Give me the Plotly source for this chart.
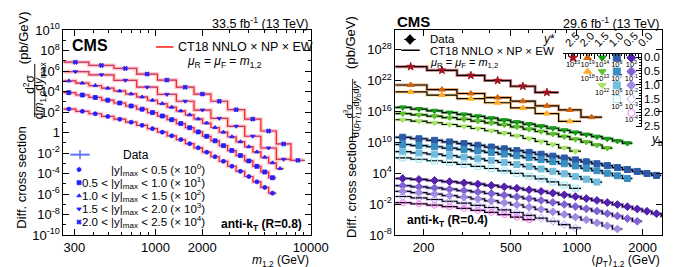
import numpy as np
import plotly.graph_objects as go

W, H = 676, 267
FONT = "Liberation Sans, Arial, sans-serif"

# ---------------- Left panel: dijet mass bins (GeV) ----------------
M_EDGES_FINE = [249, 306, 372, 449, 539, 641, 756, 887, 1029, 1187, 1361, 1556, 1769,
                2008, 2273, 2572, 2915, 3306, 3754, 4244, 4774, 5356, 6000, 6702, 7460]
M_EDGES_COARSE = [249, 372, 539, 756, 1029, 1361, 1769, 2273, 2915, 3754, 4774, 6000, 7460, 9165]

# log10 of scaled cross sections (pb/GeV)
LOG_Y00_05 = [2.3, 2.08, 1.84, 1.58, 1.31, 1.02, 0.71, 0.39, 0.05, -0.31, -0.68, -1.08, -1.48,
              -1.91, -2.35, -2.80, -3.28, -3.77, -4.28, -4.80, -5.34, -5.9]
LOG_Y05_10 = [3.9, 3.67, 3.43, 3.17, 2.89, 2.60, 2.29, 1.96, 1.62, 1.26, 0.88, 0.48, 0.07,
              -0.36, -0.80, -1.27, -1.75, -2.24, -2.76, -3.29, -3.84, -4.4]
LOG_Y10_15 = [5.05, 4.83, 4.59, 4.34, 4.07, 3.78, 3.48, 3.16, 2.83, 2.48, 2.12, 1.74, 1.34,
              0.93, 0.5, 0.05, -0.40, -0.88, -1.37, -1.88, -2.40, -2.94, -3.5]
LOG_Y15_20 = [5.95, 5.64, 5.1, 4.43, 3.73, 3.06, 2.2, 1.39, 0.62, -0.35, -1.5, -2.6]
LOG_Y20_25 = [6.87, 6.56, 6.26, 5.71, 5.13, 4.43, 3.76, 3.06, 2.24, 1.32, 0.16, -1.1, -2.7]

L_SERIES = [LOG_Y00_05, LOG_Y05_10, LOG_Y10_15, LOG_Y15_20, LOG_Y20_25]
L_EDGES = [M_EDGES_FINE, M_EDGES_FINE, M_EDGES_FINE, M_EDGES_COARSE, M_EDGES_COARSE]
L_SYMBOL = ["circle", "square", "triangle-up", "triangle-down", "x"]
L_LABEL = ["|y|<sub>max</sub> < 0.5 (× 10<sup>0</sup>)",
           "0.5 < |y|<sub>max</sub> < 1.0 (× 10<sup>1</sup>)",
           "1.0 < |y|<sub>max</sub> < 1.5 (× 10<sup>2</sup>)",
           "1.5 < |y|<sub>max</sub> < 2.0 (× 10<sup>3</sup>)",
           "2.0 < |y|<sub>max</sub> < 2.5 (× 10<sup>4</sup>)"]

# ---------------- Right panel: <pT>1,2 bins (GeV) ----------------
PT_EDGES = [147, 175, 207, 243, 284, 329, 380, 437, 499, 569, 646, 732, 827, 931, 1046,
            1171, 1307, 1456, 1618, 1796, 1990, 2202, 2432, 2684]
PT_EDGES_COARSE = [147, 207, 284, 380, 499, 646, 827, 1046, 1307]

LOG_S20_B00 = [24.7, 24.0, 23.0, 22.0, 20.9, 19.7]
LOG_S15_B00 = [21.15, 20.25, 19.5, 18.7, 18.0, 17.1, 16.3, 14.9]
LOG_S15_B05 = [19.8, 19.2, 18.5, 17.7, 16.7, 15.6, 14.1]
LOG_S10_B00 = [16.8, 16.48, 16.14, 15.79, 15.43, 15.07, 14.70, 14.32, 13.93, 13.55, 13.16,
               12.75, 12.35, 11.94, 11.53, 11.12, 10.71, 10.28, 9.86]
LOG_S10_B05 = [15.6, 15.36, 15.09, 14.80, 14.49, 14.15, 13.79, 13.41, 13.0, 12.57, 12.12,
               11.64, 11.14, 10.62, 10.07, 9.50, 8.9]
LOG_S10_B10 = [14.4, 14.13, 13.82, 13.48, 13.11, 12.70, 12.27, 11.80, 11.30, 10.76, 10.19,
               9.60, 8.96, 8.3]
LOG_S05_B00 = [11.0, 10.71, 10.40, 10.09, 9.77, 9.44, 9.10, 8.76, 8.41, 8.07, 7.71, 7.34,
               6.98, 6.61, 6.24, 5.87, 5.50, 5.12, 4.74, 4.37, 3.98, 3.6]
LOG_S05_B05 = [9.6, 9.39, 9.16, 8.91, 8.65, 8.36, 8.06, 7.74, 7.40, 7.04, 6.66, 6.27, 5.86,
               5.43, 4.98, 4.51, 4.02, 3.53, 3.0]
LOG_S05_B10 = [8.2, 7.97, 7.72, 7.44, 7.15, 6.82, 6.48, 6.11, 5.71, 5.30, 4.86, 4.39, 3.90,
               3.39, 2.86, 2.3]
LOG_S05_B15 = [7.0, 6.73, 6.44, 6.11, 5.75, 5.36, 4.94, 4.48, 4.0, 3.48, 2.93, 2.35, 1.74, 1.1]
LOG_S00_B00 = [3.0, 2.81, 2.61, 2.39, 2.16, 1.92, 1.66, 1.39, 1.11, 0.81, 0.50, 0.17, -0.17,
               -0.52, -0.89, -1.26, -1.66, -2.06, -2.48, -2.92, -3.36, -3.83, -4.3]
LOG_S00_B05 = [1.6, 1.39, 1.17, 0.92, 0.66, 0.39, 0.09, -0.22, -0.55, -0.89, -1.26, -1.64,
               -2.04, -2.45, -2.88, -3.33, -3.80, -4.28, -4.78, -5.3]
LOG_S00_B10 = [0.5, 0.25, -0.02, -0.31, -0.63, -0.97, -1.33, -1.71, -2.12, -2.55, -3.0,
               -3.47, -3.97, -4.49, -5.03, -5.6, -6.19, -6.8]
LOG_S00_B15 = [-0.5, -0.77, -1.08, -1.42, -1.79, -2.20, -2.63, -3.10, -3.60, -4.14, -4.71,
               -5.30, -5.94, -6.6]
LOG_S00_B20 = [-1.7, -1.92, -2.18, -2.47, -2.80, -3.17, -3.57, -4.01, -4.49, -5.0]

R_SERIES = [LOG_S20_B00, LOG_S15_B00, LOG_S15_B05, LOG_S10_B00, LOG_S10_B05, LOG_S10_B10,
            LOG_S05_B00, LOG_S05_B05, LOG_S05_B10, LOG_S05_B15,
            LOG_S00_B00, LOG_S00_B05, LOG_S00_B10, LOG_S00_B15, LOG_S00_B20]
R_COARSE = [True, True, True] + [False] * 12
R_COLOR = ["#a3121c", "#d2640c", "#ffad2a", "#179a17", "#5fc22c", "#a6e46a",
           "#2a5aa8", "#3a8ec2", "#72bcdc", "#9fe3f3",
           "#5522b0", "#8062d2", "#a08ae2", "#b8a8f0", "#f07ef0"]
R_SYMBOL = ["star", "triangle-up", "triangle-up", "triangle-down", "triangle-down",
            "triangle-down", "square", "square", "square", "square-open",
            "diamond", "diamond", "diamond", "diamond-open", "circle-open"]
YSTAR_LO = [2.0, 1.5, 1.5, 1.0, 1.0, 1.0, 0.5, 0.5, 0.5, 0.5, 0.0, 0.0, 0.0, 0.0, 0.0]
YB_LO = [0.0, 0.0, 0.5, 0.0, 0.5, 1.0, 0.0, 0.5, 1.0, 1.5, 0.0, 0.5, 1.0, 1.5, 2.0]
SCALE_EXP = [23, 19, 18, 14, 13, 12, 9, 7, 6, 5, 3, -1, -2, -3, -4]

fig = go.Figure()


def steps(edges, vals):
    return list(edges[:len(vals) + 1]), [10 ** v for v in vals] + [10 ** vals[-1]]


# ---- left panel traces ----
for vals, edges, sym in zip(L_SERIES, L_EDGES, L_SYMBOL):
    xs, ys = steps(edges, vals)
    fig.add_trace(go.Scatter(x=xs, y=ys, mode="lines", line_shape="hv",
                             line=dict(color="rgba(255,90,90,0.3)", width=4),
                             xaxis="x", yaxis="y", hoverinfo="skip"))
    fig.add_trace(go.Scatter(x=xs, y=ys, mode="lines", line_shape="hv",
                             line=dict(color="#ff1a1a", width=1.2),
                             xaxis="x", yaxis="y", hoverinfo="skip"))
    lo = np.array(edges[:len(vals)], float)
    hi = np.array(edges[1:len(vals) + 1], float)
    c = np.sqrt(lo * hi)
    fig.add_trace(go.Scatter(x=c, y=[10 ** v for v in vals], mode="markers",
                             marker=dict(symbol=sym, size=4, color="#1f1fff",
                                         line=dict(width=0.8, color="#1f1fff")),
                             error_x=dict(type="data", symmetric=False, array=hi - c,
                                          arrayminus=c - lo, color="rgba(90,110,255,0.45)",
                                          thickness=1, width=0),
                             xaxis="x", yaxis="y"))

# ---- right panel traces ----
for vals, coarse, col, sym in zip(R_SERIES, R_COARSE, R_COLOR, R_SYMBOL):
    edges = PT_EDGES_COARSE if coarse else PT_EDGES
    xs, ys = steps(edges, vals)
    fig.add_trace(go.Scatter(x=xs, y=ys, mode="lines", line_shape="hv",
                             line=dict(color=col, width=3), opacity=0.55,
                             xaxis="x2", yaxis="y2", hoverinfo="skip"))
    fig.add_trace(go.Scatter(x=xs, y=ys, mode="lines", line_shape="hv",
                             line=dict(color="black", width=1.2),
                             xaxis="x2", yaxis="y2", hoverinfo="skip"))
    lo = np.array(edges[:len(vals)], float)
    hi = np.array(edges[1:len(vals) + 1], float)
    c = np.sqrt(lo * hi)
    fig.add_trace(go.Scatter(x=c, y=[10 ** v for v in vals], mode="markers",
                             marker=dict(symbol=sym, size=6, color=col,
                                         line=dict(width=1, color=col)),
                             xaxis="x2", yaxis="y2"))

# ---- inset (y*, yb) legend grid ----
for ys_, yb_, col, sym, e in zip(YSTAR_LO, YB_LO, R_COLOR, R_SYMBOL, SCALE_EXP):
    fig.add_trace(go.Scatter(x=[ys_ + 0.25], y=[yb_ + 0.02], mode="markers",
                             marker=dict(symbol=sym, size=7, color=col,
                                         line=dict(width=1, color=col)),
                             xaxis="x3", yaxis="y3", cliponaxis=False))
    fig.add_trace(go.Scatter(x=[ys_ + 0.25], y=[yb_ + 0.3], mode="text",
                             text=["10<sup>%d</sup>" % e], textfont=dict(size=7.5, family=FONT),
                             xaxis="x3", yaxis="y3", cliponaxis=False))

# ---- legend glyphs (pixel overlay axis) ----
LEG_Y = [163, 177, 191, 205, 219]
for sym, yy in zip(L_SYMBOL, LEG_Y):
    fig.add_trace(go.Scatter(x=[73], y=[yy], mode="markers",
                             marker=dict(symbol=sym, size=4, color="#1f1fff",
                                         line=dict(width=0.8, color="#1f1fff")),
                             xaxis="x4", yaxis="y4"))
fig.add_trace(go.Scatter(x=[64, 84], y=[147, 147], mode="lines",
                         line=dict(color="#6070ff", width=2), xaxis="x4", yaxis="y4"))
fig.add_trace(go.Scatter(x=[74, 74], y=[142, 152], mode="lines",
                         line=dict(color="#6070ff", width=1.5), xaxis="x4", yaxis="y4"))
fig.add_trace(go.Scatter(x=[152, 170], y=[32, 32], mode="lines",
                         line=dict(color="#ff1a1a", width=1.5), xaxis="x4", yaxis="y4"))
fig.add_trace(go.Scatter(x=[413], y=[24], mode="markers",
                         marker=dict(symbol="diamond", size=8, color="black"),
                         error_y=dict(type="constant", value=5, color="black", thickness=1, width=0),
                         error_x=dict(type="constant", value=6, color="black", thickness=1, width=0),
                         xaxis="x4", yaxis="y4"))
fig.add_trace(go.Scatter(x=[404, 423], y=[35.5, 35.5], mode="lines",
                         line=dict(color="black", width=1.5), xaxis="x4", yaxis="y4"))


def sup(k):
    return "1" if k == 0 else "10<sup>%d</sup>" % k


AX = dict(showgrid=False, zeroline=False, showline=True, linecolor="black", linewidth=1,
          mirror="allticks", ticks="inside", ticklen=6, tickwidth=1, tickcolor="black",
          tickfont=dict(size=13, family=FONT, color="black"))
MINOR = dict(ticks="inside", ticklen=3, tickcolor="black", tickwidth=1, showgrid=False)

fig.update_layout(
    width=W, height=H, margin=dict(l=0, r=0, t=0, b=0),
    paper_bgcolor="white", plot_bgcolor="rgba(0,0,0,0)", showlegend=False,
    font=dict(family=FONT, size=12, color="black"),
    xaxis=dict(domain=[57 / W, 311 / W], type="log", range=[np.log10(255), 4.0], anchor="y",
               tickvals=[300, 1000, 2000, 10000], ticktext=["300", "1000", "2000", "10000"],
               minor=dict(tickvals=[400, 500, 600, 700, 800, 900, 3000, 4000, 5000, 6000,
                                    7000, 8000, 9000], **MINOR), **AX),
    yaxis=dict(domain=[1 - 233 / H, 1 - 14 / H], type="log", range=[-10, 10], anchor="x",
               tickvals=[10.0 ** k for k in range(-10, 11, 2)],
               ticktext=[sup(k) for k in range(-10, 11, 2)],
               minor=dict(tickvals=[10.0 ** k for k in range(-9, 10, 2)], **MINOR), **AX),
    xaxis2=dict(domain=[398 / W, 672 / W], type="log", range=[np.log10(148.6), np.log10(2455)],
                anchor="y2", tickvals=[200, 500, 1000, 2000],
                ticktext=["200", "500", "1000", "2000"],
                minor=dict(tickvals=[300, 400, 600, 700, 800, 900], **MINOR), **AX),
    yaxis2=dict(domain=[1 - 233 / H, 1 - 14 / H], type="log", range=[-8, 31.8], anchor="x2",
                tickvals=[10.0 ** k for k in range(-8, 29, 6)],
                ticktext=[sup(k) for k in range(-8, 29, 6)], **AX),
    xaxis3=dict(domain=[570 / W, 650 / W], range=[2.6, -0.07], anchor="y3", side="top",
                showline=True, linecolor="black", showgrid=False, zeroline=False,
                ticks="inside", ticklen=5, tickcolor="black",
                tickvals=[0, 0.5, 1.0, 1.5, 2.0, 2.5], ticktext=["0.0", "0.5", "1.0", "1.5", "2.0", "2.5"],
                tickangle=-45, tickfont=dict(size=11, family=FONT),
                minor=dict(dtick=0.1, ticks="inside", ticklen=2, tickcolor="black")),
    yaxis3=dict(domain=[1 - 118 / H, 1 - 40 / H], range=[2.55, -0.1], anchor="x3", side="right",
                showline=True, linecolor="black", showgrid=False, zeroline=False,
                ticks="inside", ticklen=5, tickcolor="black",
                tickvals=[0, 0.5, 1.0, 1.5, 2.0, 2.5], ticktext=["0.0", "0.5", "1.0", "1.5", "2.0", "2.5"],
                tickfont=dict(size=11.5, family=FONT),
                minor=dict(dtick=0.1, ticks="inside", ticklen=2, tickcolor="black")),
    xaxis4=dict(domain=[0, 1], range=[0, W], visible=False, anchor="y4", fixedrange=True),
    yaxis4=dict(domain=[0, 1], range=[H, 0], visible=False, anchor="x4", fixedrange=True),
)


def ann(x, y, text, size=12, xanchor="left", yanchor="middle", angle=0):
    fig.add_annotation(x=x / W, y=1 - y / H, xref="paper", yref="paper", text=text,
                       showarrow=False, xanchor=xanchor, yanchor=yanchor, textangle=angle,
                       font=dict(size=size, family=FONT, color="black"))


# left panel texts
ann(311, 6, "33.5 fb<sup>-1</sup> (13 TeV)", 12.5, "right")
ann(64, 30, "<b>CMS</b>", 16)
ann(173, 32, "CT18 NNLO × NP × EW", 12.5)
ann(182, 48, "<i>μ</i><sub>R</sub> = <i>μ</i><sub>F</sub> = <i>m</i><sub>1,2</sub>", 12)
ann(116, 147, "Data", 12)
for lab, yy in zip(L_LABEL, LEG_Y):
    ann(204, yy, lab, 11.5, "right")
ann(304, 222, "<b>anti-k<sub>T</sub> (R=0.8)</b>", 12, "right")
ann(311, 261, "<i>m</i><sub>1,2</sub> (GeV)", 12, "right")
ann(13, 172, "Diff. cross section", 13, "center", "middle", -90)
ann(22, 72, "d<sup>2</sup>σ", 12, "center", "middle", -90)
ann(33, 78, "d<i>m</i><sub>1,2</sub>d<i>y</i><sub>max</sub>", 12, "center", "middle", -90)
ann(16, 22, "(pb/GeV)", 13, "center", "middle", -90)
fig.add_shape(type="line", xref="paper", yref="paper", x0=27.5 / W, x1=27.5 / W,
              y0=1 - 50 / H, y1=1 - 107 / H, line=dict(color="black", width=1))

# right panel texts
ann(398, 5, "<b>CMS</b>", 15)
ann(672, 6, "29.6 fb<sup>-1</sup> (13 TeV)", 12.5, "right")
ann(432, 24, "Data", 11.5)
ann(432, 36, "CT18 NNLO × NP × EW", 11.5)
ann(432, 49, "<i>μ</i><sub>R</sub> = <i>μ</i><sub>F</sub> = <i>m</i><sub>1,2</sub>", 11)
ann(408, 218, "<b>anti-k<sub>T</sub> (R=0.4)</b>", 12)
ann(672, 261, "⟨<i>p</i><sub>T</sub>⟩<sub>1,2</sub> (GeV)", 12, "right")
ann(556, 24, "<i>y</i>*", 12, "center")
ann(667, 131, "<i>y</i><sub>b</sub>", 12, "center")
ann(353, 182, "Diff. cross section", 13, "center", "middle", -90)
ann(349, 100, "d<sup>3</sup>σ", 9, "center", "middle", -90)
ann(358, 98, "d⟨<i>p</i><sub>T</sub>⟩<sub>1,2</sub>d<i>y</i><sub>b</sub>d<i>y</i>*", 9, "center", "middle", -90)
ann(352, 27, "(pb/GeV)", 13, "center", "middle", -90)
fig.add_shape(type="line", xref="paper", yref="paper", x0=354 / W, x1=354 / W,
              y0=1 - 66 / H, y1=1 - 132 / H, line=dict(color="black", width=0.8))

fig.write_html("out.html")
